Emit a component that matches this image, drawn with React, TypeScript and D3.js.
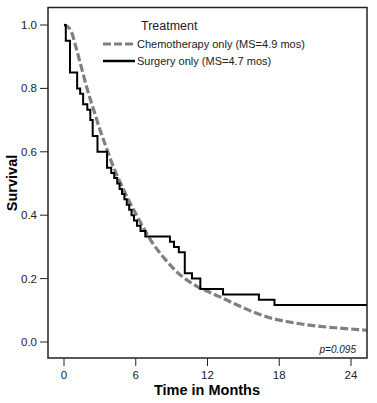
import React from "react";
import * as d3 from "d3";

const surgeryTimes = [0, 0.15, 0.5, 1.1, 1.35, 1.6, 1.95, 2.2, 2.4, 2.8, 3.6, 3.95, 4.2, 4.45, 4.65, 4.85, 5.05, 5.25, 5.45, 5.65, 5.85, 6.1, 6.4, 6.8, 8.86, 9.2, 9.6, 10.1, 10.7, 11.4, 13.3, 16.3, 17.6];
const surgerySurv = [1.0, 0.95, 0.85, 0.8, 0.783, 0.75, 0.733, 0.7, 0.65, 0.6, 0.55, 0.533, 0.517, 0.5, 0.483, 0.467, 0.45, 0.433, 0.417, 0.4, 0.383, 0.367, 0.35, 0.333, 0.316, 0.3, 0.283, 0.217, 0.2, 0.167, 0.15, 0.133, 0.117];
const surgeryEnd = 25.34;

const chemoTimes = [0, 0.3, 0.6, 1.0, 1.5, 2.0, 2.5, 3.0, 3.57, 4.0, 4.5, 5.0, 5.5, 6.0, 6.5, 7.0, 7.5, 8.0, 8.5, 9.0, 9.5, 10, 10.5, 11, 12, 13, 14, 15, 16, 17, 18, 19, 20, 21, 22, 23, 24, 25.34];
const chemoSurv = [1.0, 0.995, 0.98, 0.93, 0.86, 0.79, 0.73, 0.67, 0.61, 0.565, 0.52, 0.48, 0.44, 0.405, 0.37, 0.337, 0.307, 0.282, 0.259, 0.238, 0.219, 0.203, 0.19, 0.178, 0.16, 0.143, 0.125, 0.108, 0.092, 0.079, 0.069, 0.062, 0.056, 0.051, 0.047, 0.044, 0.041, 0.037];

const xTicks = [0, 6, 12, 18, 24];
const yTicks = [0, 0.2, 0.4, 0.6, 0.8, 1.0];

const legendTitle = "Treatment";
const legendLabels = ["Chemotherapy only (MS=4.9 mos)", "Surgery only (MS=4.7 mos)"];
const pValue = "p=0.095";

const FONT = "'Liberation Sans', Arial, sans-serif";

export default function App() {
  const W = 377, H = 403;
  const L = 48, R = 367, T = 7.5, B = 358;
  const x = d3.scaleLinear().domain([0, 24]).range([64, 351]);
  const y = d3.scaleLinear().domain([0, 1]).range([342, 25]);

  const survData: [number, number][] = surgeryTimes.map((t, i) => [t, surgerySurv[i]]);
  survData.push([surgeryEnd, surgerySurv[surgerySurv.length - 1]]);
  const stepLine = d3.line<[number, number]>().x(d => x(d[0])).y(d => y(d[1])).curve(d3.curveStepAfter);

  const chemoData: [number, number][] = chemoTimes.map((t, i) => [t, chemoSurv[i]]);
  const smoothLine = d3.line<[number, number]>().x(d => x(d[0])).y(d => y(d[1])).curve(d3.curveMonotoneX);

  return (
    <svg width={W} height={H} style={{ position: "absolute", left: 0, top: 0, background: "#fff" }} fontFamily={FONT}>
      <rect x={0} y={0} width={W} height={H} fill="#fff" />
      <defs>
        <clipPath id="plotclip">
          <rect x={L} y={T} width={R - L} height={B - T} />
        </clipPath>
      </defs>
      {/* curves */}
      <g clipPath="url(#plotclip)">
        <path d={smoothLine(chemoData) || ""} fill="none" stroke="#808080" strokeWidth={3.2} strokeDasharray="8 3" />
        <path d={stepLine(survData) || ""} fill="none" stroke="#000" strokeWidth={2} />
      </g>
      {/* frame */}
      <rect x={L} y={T} width={R - L} height={B - T} fill="none" stroke="#222" strokeWidth={1.5} />
      {/* y axis ticks */}
      {yTicks.map(v => (
        <g key={v}>
          <line x1={40} x2={L} y1={y(v)} y2={y(v)} stroke="#222" strokeWidth={1} />
          <text x={37} y={y(v) + 4} textAnchor="end" fontSize={11.5} fill="#222">{v.toFixed(1)}</text>
        </g>
      ))}
      {/* x axis ticks */}
      {xTicks.map(v => (
        <g key={v}>
          <line x1={x(v)} x2={x(v)} y1={B} y2={366} stroke="#222" strokeWidth={1} />
          <text x={x(v)} y={379} textAnchor="middle" fontSize={11.5} fill="#222">{v}</text>
        </g>
      ))}
      <text x={207} y={395} textAnchor="middle" fontSize={14.5} fontWeight="bold" fill="#000">Time in Months</text>
      <text transform="translate(17,183) rotate(-90)" textAnchor="middle" fontSize={14.5} fontWeight="bold" fill="#000">Survival</text>
      {/* legend */}
      <text x={141} y={30} fontSize={12.5} fill="#222">{legendTitle}</text>
      <line x1={103} x2={135} y1={44} y2={44} stroke="#808080" strokeWidth={3} strokeDasharray="8 3" />
      <text x={137} y={48} fontSize={11} fill="#222">{legendLabels[0]}</text>
      <line x1={103} x2={135} y1={61} y2={61} stroke="#000" strokeWidth={2.5} />
      <text x={137} y={65} fontSize={11} fill="#222">{legendLabels[1]}</text>
      <text x={356} y={353} textAnchor="end" fontSize={10} fontStyle="italic" fill="#222">{pValue}</text>
    </svg>
  );
}
